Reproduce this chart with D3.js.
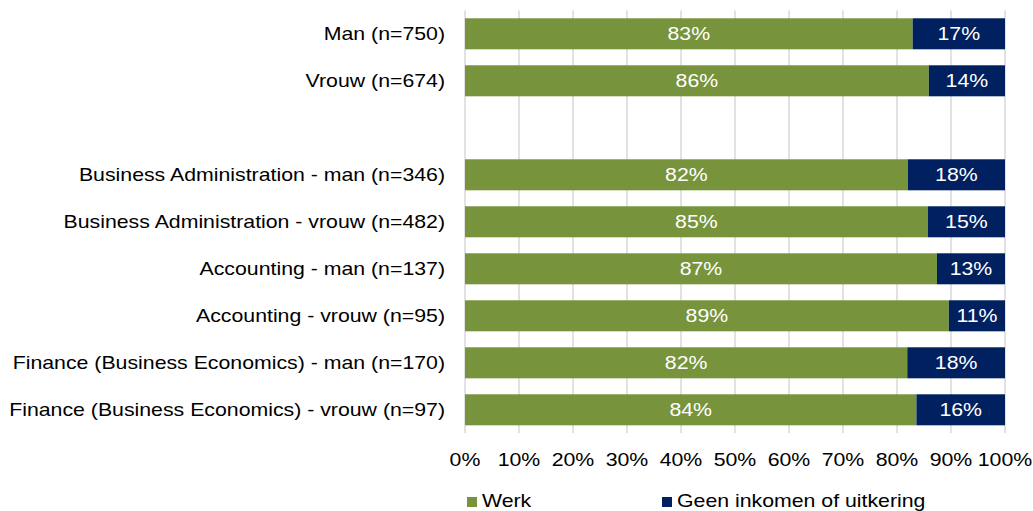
<!DOCTYPE html>
<html>
<head>
<meta charset="utf-8">
<script src="https://cdn.jsdelivr.net/npm/d3@7"></script>
<style>
    body { margin: 0; background: #fff; }
    svg { display: block; font-family: 'Liberation Sans', Arial, sans-serif; }
</style>
</head>
<body>
<svg id="chart" width="1033" height="511"></svg>
<script>
// categories, '' is the empty spacer row
var categories = [
    'Man (n=750)',
    'Vrouw (n=674)',
    '',
    'Business Administration - man (n=346)',
    'Business Administration - vrouw (n=482)',
    'Accounting - man (n=137)',
    'Accounting - vrouw (n=95)',
    'Finance (Business Economics) - man (n=170)',
    'Finance (Business Economics) - vrouw (n=97)'
];

// share in %
var werk = [82.9, 85.9, null, 82.0, 85.7, 87.4, 89.6, 81.9, 83.6];
var geen = [17.1, 14.1, null, 18.0, 14.3, 12.6, 10.4, 18.1, 16.4];

// data labels as printed in the bars
var werkLabels = ['83%', '86%', '', '82%', '85%', '87%', '89%', '82%', '84%'];
var geenLabels = ['17%', '14%', '', '18%', '15%', '13%', '11%', '18%', '16%'];

var ticks = [0, 10, 20, 30, 40, 50, 60, 70, 80, 90, 100];
var seriesNames = ['Werk', 'Geen inkomen of uitkering'];
var colors = ['#77933c', '#002060'];

var svg = d3.select('#chart');

var x = d3.scaleLinear()
    .domain([0, 100])
    .range([465, 1005]);

var y = d3.scaleBand()
    .domain(d3.range(categories.length))
    .range([10.3, 433.3])
    .paddingInner(0.34)
    .paddingOuter(0.17);

// gridlines
svg.append('g')
    .selectAll('line')
    .data(ticks)
    .join('line')
    .attr('x1', d => x(d))
    .attr('x2', d => x(d))
    .attr('y1', 10.3)
    .attr('y2', 433.3)
    .attr('stroke', '#d9d9d9')
    .attr('stroke-width', 1.5);

// tick labels
svg.append('g')
    .selectAll('text')
    .data(ticks)
    .join('text')
    .attr('x', d => x(d))
    .attr('y', 465.5)
    .attr('text-anchor', 'middle')
    .attr('font-size', '19px')
    .attr('fill', '#000')
    .text(d => d + '%');

// category labels
svg.append('g')
    .selectAll('text')
    .data(categories)
    .join('text')
    .attr('x', 445)
    .attr('y', (d, i) => y(i) + y.bandwidth() / 2)
    .attr('dy', '0.35em')
    .attr('text-anchor', 'end')
    .attr('font-size', '19px')
    .attr('fill', '#000')
    .text(d => d);

var rows = d3.range(categories.length).filter(i => werk[i] !== null);

// bars
var bars = svg.append('g');

bars.selectAll('rect.werk')
    .data(rows)
    .join('rect')
    .attr('class', 'werk')
    .attr('x', x(0))
    .attr('y', i => y(i))
    .attr('width', i => x(werk[i]) - x(0))
    .attr('height', y.bandwidth())
    .attr('fill', colors[0]);

bars.selectAll('rect.geen')
    .data(rows)
    .join('rect')
    .attr('class', 'geen')
    .attr('x', i => x(werk[i]))
    .attr('y', i => y(i))
    .attr('width', i => x(werk[i] + geen[i]) - x(werk[i]))
    .attr('height', y.bandwidth())
    .attr('fill', colors[1]);

// data labels
bars.selectAll('text.werk')
    .data(rows)
    .join('text')
    .attr('class', 'werk')
    .attr('x', i => (x(0) + x(werk[i])) / 2)
    .attr('y', i => y(i) + y.bandwidth() / 2)
    .attr('dy', '0.35em')
    .attr('text-anchor', 'middle')
    .attr('font-size', '19px')
    .attr('fill', '#fff')
    .text(i => werkLabels[i]);

bars.selectAll('text.geen')
    .data(rows)
    .join('text')
    .attr('class', 'geen')
    .attr('x', i => (x(werk[i]) + x(werk[i] + geen[i])) / 2)
    .attr('y', i => y(i) + y.bandwidth() / 2)
    .attr('dy', '0.35em')
    .attr('text-anchor', 'middle')
    .attr('font-size', '19px')
    .attr('fill', '#fff')
    .text(i => geenLabels[i]);

// legend
var legendX = [467, 662];
var legend = svg.append('g')
    .selectAll('g')
    .data(seriesNames)
    .join('g')
    .attr('transform', (d, i) => `translate(${legendX[i]},497)`);

legend.append('rect')
    .attr('width', 10)
    .attr('height', 10)
    .attr('fill', (d, i) => colors[i]);

legend.append('text')
    .attr('x', 15)
    .attr('y', 10)
    .attr('font-size', '19px')
    .attr('fill', '#000')
    .text(d => d);

// the text in the original is a bit wider than it is tall, stretch it
svg.selectAll('text').each(function () {
    var len = this.getComputedTextLength();
    if (len > 0) {
        d3.select(this)
            .attr('textLength', len * 1.12)
            .attr('lengthAdjust', 'spacingAndGlyphs');
    }
});
</script>
</body>
</html>
